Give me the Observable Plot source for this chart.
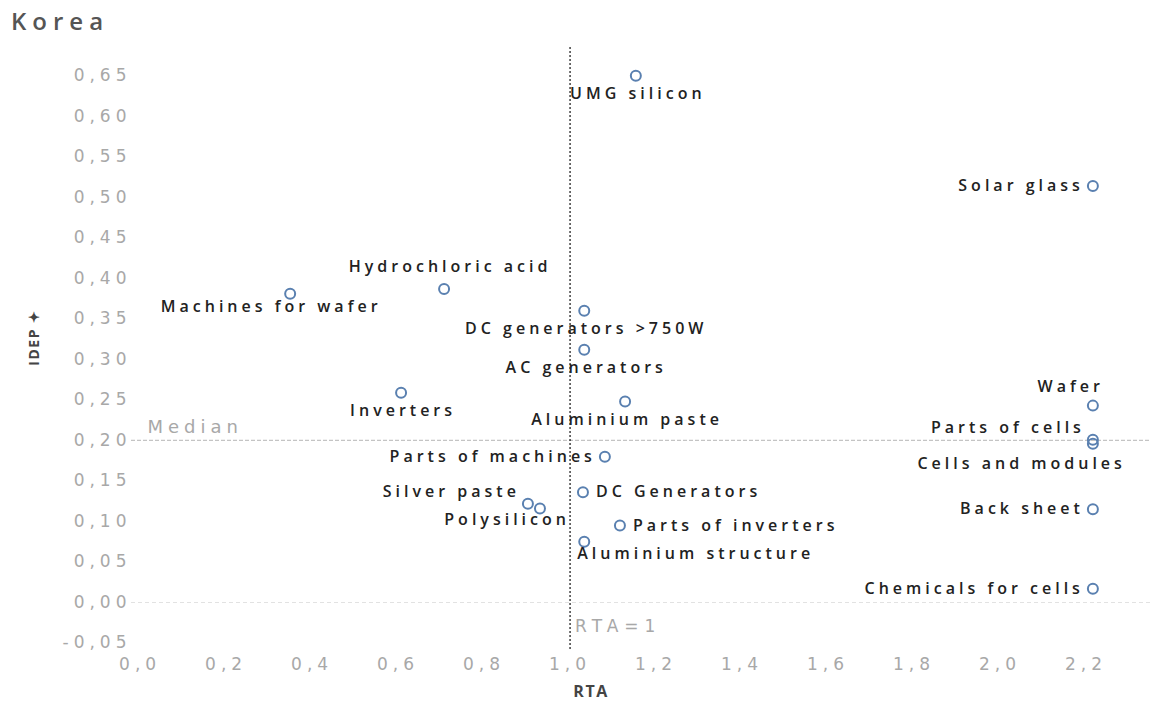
<!DOCTYPE html>
<html>
<head>
<meta charset="utf-8">
<script src="https://cdn.jsdelivr.net/npm/d3@7"></script>
<script src="https://cdn.jsdelivr.net/npm/@observablehq/plot@0.6"></script>
<style>
  html, body { margin: 0; padding: 0; background: #fff; }
  #title { height: 40px; line-height: 42px; padding-left: 11px; font-family: "Open Sans", sans-serif; font-weight: 600; font-size: 24px; letter-spacing: 6px; color: #555; }
  g[aria-label="x-axis tick label"] text, g[aria-label="y-axis tick label"] text { letter-spacing: 5px; }
  text[aria-label="product label"] { letter-spacing: 4px; }
  text[aria-label="median label"] { letter-spacing: 5px; }
  text[aria-label="threshold label"] { letter-spacing: 6px; }
  text[aria-label="axis title"] { letter-spacing: 1.5px; }
</style>
</head>
<body>
<div id="title">Korea</div>
<div id="chart"></div>
<script>
// ---- data ----
const products = ["UMG silicon", "Solar glass", "Hydrochloric acid", "Machines for wafer", "DC generators >750W", "AC generators", "Inverters", "Aluminium paste", "Wafer", "Parts of cells", "Cells and modules", "Parts of machines", "DC Generators", "Silver paste", "Polysilicon", "Parts of inverters", "Back sheet", "Aluminium structure", "Chemicals for cells"];
const rta  = [1.153, 2.216, 0.707, 0.349, 1.033, 1.033, 0.607, 1.128, 2.216, 2.216, 2.216, 1.081, 1.030, 0.902, 0.930, 1.116, 2.216, 1.033, 2.216];
const idep = [0.650, 0.514, 0.387, 0.381, 0.360, 0.312, 0.259, 0.248, 0.243, 0.201, 0.196, 0.180, 0.136, 0.122, 0.116, 0.095, 0.115, 0.075, 0.017];
const labelPlacement = ["below", "left", "above", "belowWide", "below", "below", "below", "below", "aboveEnd", "upLeft", "belowEndFar", "left", "right", "upLeft", "belowEndNear", "right", "left", "belowStart", "left"];
const xTicks = [0, 0.2, 0.4, 0.6, 0.8, 1.0, 1.2, 1.4, 1.6, 1.8, 2.0, 2.2];
const yTicks = [-0.05, 0, 0.05, 0.10, 0.15, 0.20, 0.25, 0.30, 0.35, 0.40, 0.45, 0.50, 0.55, 0.60, 0.65];
const medianIDEP = 0.20;
const rtaThreshold = 1;

// ---- label placement styles ----
const placements = {
  below:        {textAnchor: "middle", dx: 2,   dy: 18},
  above:        {textAnchor: "middle", dx: 6,   dy: -22},
  left:         {textAnchor: "end",    dx: -9,  dy: 0},
  right:        {textAnchor: "start",  dx: 13,  dy: 0},
  belowWide:    {textAnchor: "middle", dx: -19, dy: 13},
  aboveEnd:     {textAnchor: "end",    dx: 11,  dy: -19},
  upLeft:       {textAnchor: "end",    dx: -8,  dy: -12},
  belowEndFar:  {textAnchor: "end",    dx: 33,  dy: 20},
  belowEndNear: {textAnchor: "end",    dx: 30,  dy: 11},
  belowStart:   {textAnchor: "start",  dx: -7,  dy: 12}
};

const data = products.map((p, i) => ({product: p, rta: rta[i], idep: idep[i], place: labelPlacement[i]}));
const comma = (f) => (d) => f(d).replace(".", ",").replace("\u2212", "-");
const tag = (name) => () => name;

const labelMarks = Object.entries(placements).map(([key, opt]) =>
  Plot.text(data.filter(d => d.place === key), {
    x: "rta", y: "idep", text: "product",
    textAnchor: opt.textAnchor, dx: opt.dx, dy: opt.dy,
    fontFamily: "Open Sans", fontWeight: 600, fontSize: 16, fill: "#222",
    ariaLabel: tag("product label")
  })
);

const chart = Plot.plot({
  width: 1152,
  height: 665,
  marginLeft: 131,
  marginRight: 2,
  marginTop: 7,
  marginBottom: 56,
  style: {background: "#fff", fontFamily: "DejaVu Sans"},
  x: {domain: [-0.02, 2.35]},
  y: {domain: [-0.058, 0.685]},
  marks: [
    Plot.ruleY([0], {stroke: "#e2e2e2", strokeDasharray: "4,3"}),
    Plot.ruleY([medianIDEP], {stroke: "#c4c4c4", strokeDasharray: "4,2", strokeWidth: 1.2}),
    Plot.ruleX([rtaThreshold], {stroke: "#111", strokeDasharray: "2,2", strokeWidth: 1.2}),
    Plot.axisX({ticks: xTicks, tickFormat: comma(d3.format(".1f")), tickSize: 0, tickPadding: 8, label: null,
      fontSize: 17, fill: "#a8a8a8", fontFamily: "DejaVu Sans"}),
    Plot.axisY({ticks: yTicks, tickFormat: comma(d3.format(".2f")), tickSize: 0, tickPadding: 0, label: null,
      fontSize: 17, fill: "#a8a8a8", fontFamily: "DejaVu Sans"}),
    Plot.text(["Median"], {y: [medianIDEP], text: d => d, frameAnchor: "left", textAnchor: "start", dx: 16, dy: -13,
      fontSize: 18, fill: "#a8a8a8", fontFamily: "DejaVu Sans", ariaLabel: tag("median label")}),
    Plot.text(["RTA=1"], {x: [rtaThreshold], text: d => d, frameAnchor: "bottom", textAnchor: "start", dx: 5, dy: -18,
      fontSize: 17, fill: "#a8a8a8", fontFamily: "DejaVu Sans", ariaLabel: tag("threshold label")}),
    Plot.dot(data, {x: "rta", y: "idep", r: 5, stroke: "#5a80b0", strokeWidth: 2, fill: "none"}),
    ...labelMarks,
    Plot.text(["IDEP ✦"], {text: d => d, frameAnchor: "left", textAnchor: "middle", dx: -97, dy: -11, rotate: -90,
      fontSize: 14, fontWeight: 700, fill: "#444", fontFamily: "Open Sans", ariaLabel: tag("axis title")}),
    Plot.text(["RTA"], {text: d => d, frameAnchor: "bottom", textAnchor: "middle", dx: -50, dy: 47,
      fontSize: 16, fontWeight: 700, fill: "#444", fontFamily: "Open Sans", ariaLabel: tag("axis title")})
  ]
});
document.getElementById("chart").appendChild(chart);
</script>
</body>
</html>
